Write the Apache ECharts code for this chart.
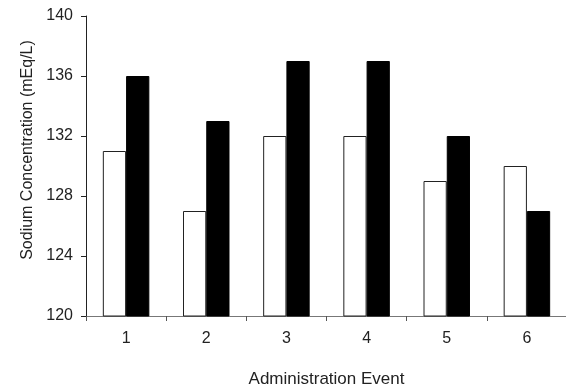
<!DOCTYPE html>
<html><head><meta charset="utf-8">
<script src="https://cdn.jsdelivr.net/npm/echarts@6/dist/echarts.min.js"></script>
<style>html,body{margin:0;padding:0;background:#fff}#c{width:566px;height:387px}</style>
</head><body><div id="c"></div>
<script>
const categories = ['1','2','3','4','5','6'];
const seriesA = [131, 127, 132, 132, 129, 130];
const seriesB = [136, 133, 137, 137, 132, 127];
const yTicks = [120, 124, 128, 132, 136, 140];

const chart = echarts.init(document.getElementById('c'));
const font = 'Liberation Sans, Arial, sans-serif';
chart.setOption({
  animation: false,
  grid: {left: 86, top: 16, width: 481, height: 300, containLabel: false, outerBoundsMode: 'none'},
  xAxis: {
    type: 'category', data: categories,
    name: 'Administration Event', nameLocation: 'middle', nameGap: 55,
    nameTextStyle: {fontFamily: font, fontSize: 17, color: '#222'},
    axisLine: {lineStyle: {color: '#777', width: 1}},
    axisTick: {show: true, length: 5, lineStyle: {color: '#555'}},
    axisLabel: {fontFamily: font, fontSize: 16, color: '#222', margin: 15},
    splitLine: {show: false}
  },
  yAxis: {
    type: 'value', min: yTicks[0], max: yTicks[yTicks.length-1], interval: 4,
    name: 'Sodium Concentration (mEq/L)', nameLocation: 'middle', nameGap: 50,
    nameTextStyle: {fontFamily: font, fontSize: 16, color: '#222', padding: [0, 0, 0, 32]},
    axisLine: {show: true, lineStyle: {color: '#222', width: 1}},
    axisTick: {show: true, length: 5, lineStyle: {color: '#222'}},
    axisLabel: {fontFamily: font, fontSize: 16, color: '#222', margin: 13},
    splitLine: {show: false}
  },
  series: [
    {type: 'bar', data: seriesA, barGap: '0%', barCategoryGap: '42%',
     itemStyle: {color: '#fff', borderColor: '#222', borderWidth: 1}},
    {type: 'bar', data: seriesB, barGap: '0%', barCategoryGap: '42%',
     itemStyle: {color: '#000', borderColor: '#000', borderWidth: 1}}
  ]
});
</script></body></html>
